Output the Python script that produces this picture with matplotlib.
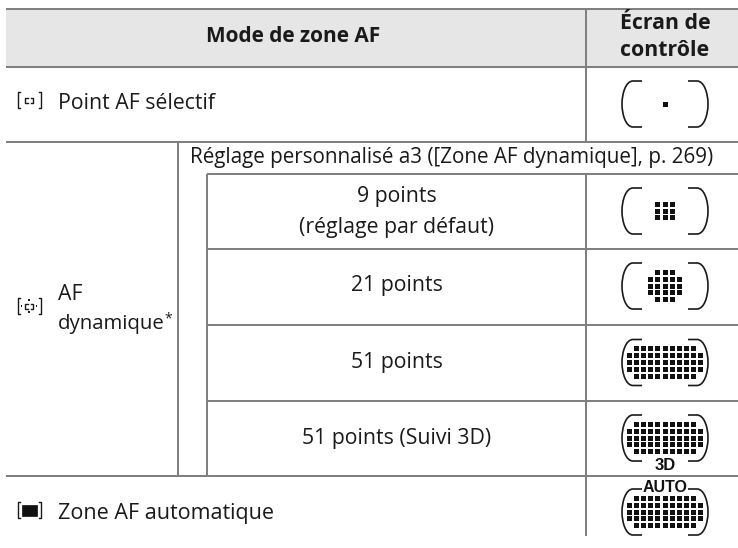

# table of AF area modes, drawn in pixel coordinates
import matplotlib
matplotlib.use('Agg')
import matplotlib.pyplot as plt
from matplotlib.patches import PathPatch, Rectangle
from matplotlib.path import Path

header_left = 'Mode de zone AF'
header_right = ['Écran de', 'contrôle']
mode_single = 'Point AF sélectif'
mode_dynamic = ['AF', 'dynamique']
mode_auto = 'Zone AF automatique'
sub_header = 'Réglage personnalisé a3 ([Zone AF dynamique], p. 269)'
sub_labels = [['9 points', '(réglage par défaut)'], ['21 points'], ['51 points'], ['51 points (Suivi 3D)']]

# dots per row of each viewfinder icon
rows_1 = [1]
rows_9 = [3, 3, 3]
rows_21 = [3, 5, 5, 5, 3]
rows_51 = [9, 11, 11, 11, 9]

font = 'Open Sans'
fs = 15.3
line_c = '#808080'
ink = '#1a1a1a'

fig = plt.figure(figsize=(7.38, 5.48), dpi=100)
ax = fig.add_axes([0, 0, 1, 1])
ax.set_xlim(0, 738)
ax.set_ylim(548, 0)
ax.axis('off')


def hline(y, x0=6, x1=738):
    ax.plot([x0, x1], [y, y], color=line_c, lw=1.45, solid_capstyle='butt')


def vline(x, y0, y1):
    ax.plot([x, x], [y0, y1], color=line_c, lw=1.45, solid_capstyle='butt')


def label(x, y, s, size=fs, weight='normal', ha='left'):
    ax.text(x, y, s, family=font, size=size, weight=weight, ha=ha, va='baseline', color=ink)


def brackets(cy, cx=665):
    # curved brackets round the dot pattern
    for s in (-1, 1):
        verts = [(cx + s * 23, cy - 23), (cx + s * 32, cy - 23),
                 (cx + s * 39, cy - 23), (cx + s * 43, cy - 11), (cx + s * 43, cy),
                 (cx + s * 43, cy + 11), (cx + s * 39, cy + 23), (cx + s * 32, cy + 23),
                 (cx + s * 23, cy + 23)]
        codes = [Path.MOVETO, Path.LINETO, Path.CURVE4, Path.CURVE4, Path.CURVE4,
                 Path.CURVE4, Path.CURVE4, Path.CURVE4, Path.LINETO]
        ax.add_patch(PathPatch(Path(verts, codes), fc='none', ec=ink, lw=1.2))


def dots(cy, rows, cx=665, pitch=7.1, pitch_y=6.9, size=5.0):
    n = len(rows)
    for i, k in enumerate(rows):
        y = cy + (i - (n - 1) / 2) * pitch_y
        for j in range(k):
            x = cx + (j - (k - 1) / 2) * pitch
            ax.add_patch(Rectangle((x - size / 2, y - size / 2), size, size, fc='#111111', ec='none'))


def small_icon(cy, kind, cx=29):
    for s in (-1, 1):
        ax.plot([cx + s * 9.5, cx + s * 11.5, cx + s * 11.5, cx + s * 9.5],
                [cy - 8, cy - 8, cy + 8, cy + 8], color=ink, lw=1.0)
    if kind == 'auto':
        ax.add_patch(Rectangle((cx - 7.5, cy - 5.5), 15, 11, fc='#111111', ec='#111111', lw=0.5))
        return
    for s in (-1, 1):
        ax.plot([cx + s * 1.5, cx + s * 4, cx + s * 4, cx + s * 1.5],
                [cy - 2.5, cy - 2.5, cy + 2.5, cy + 2.5], color=ink, lw=1.0)
    if kind == 'dyn':
        for dx, dy in ((-7.5, 0), (7.5, 0), (0, -6), (0, 6)):
            ax.add_patch(Rectangle((cx + dx - 0.9, cy + dy - 0.9), 1.8, 1.8, fc=ink, ec='none'))


# header band and rules
ax.add_patch(Rectangle((6, 9), 732, 57, fc='#e6e6e6', ec='none'))
for y in (9, 66.5, 141.5, 475.5):
    hline(y)
for y in (174, 248.5, 325, 400.5):
    hline(y, x0=207)
vline(178, 141.5, 475.5)
vline(207, 174, 475.5)
vline(586, 9, 141.5)
vline(586, 174, 536)

# text
label(293, 42, header_left, size=15, weight='bold', ha='center')
label(665, 29, header_right[0], weight='bold', ha='center')
label(665, 56, header_right[1], weight='bold', ha='center')
label(58, 109, mode_single)
label(58, 300, mode_dynamic[0])
label(58, 329, mode_dynamic[1], size=14.7)
label(168, 322, '*', size=10, ha='center')
label(58, 519, mode_auto, size=15.5)
label(190, 163, sub_header, size=14.9)
label(396.5, 201.7, sub_labels[0][0], ha='center')
label(396.5, 233, sub_labels[0][1], ha='center')
label(396.5, 291, sub_labels[1][0], ha='center')
label(396.5, 368, sub_labels[2][0], ha='center')
label(396.5, 444, sub_labels[3][0], ha='center')

# viewfinder icons
icon_rows = [(104, rows_1), (211, rows_9), (286, rows_21), (362.5, rows_51), (438, rows_51), (512, rows_51)]
for cy, rows in icon_rows:
    brackets(cy)
    dots(cy, rows)
ax.text(665, 465, '3D', family='Liberation Sans', weight='bold', size=12, ha='center', va='center', color='#111111')
ax.text(665, 487, 'AUTO', family='Liberation Sans', weight='bold', size=11.5, ha='center', va='center', color='#111111')

small_icon(100, 'single')
small_icon(306, 'dyn')
small_icon(510, 'auto')

fig.savefig('out.png', dpi=100)
